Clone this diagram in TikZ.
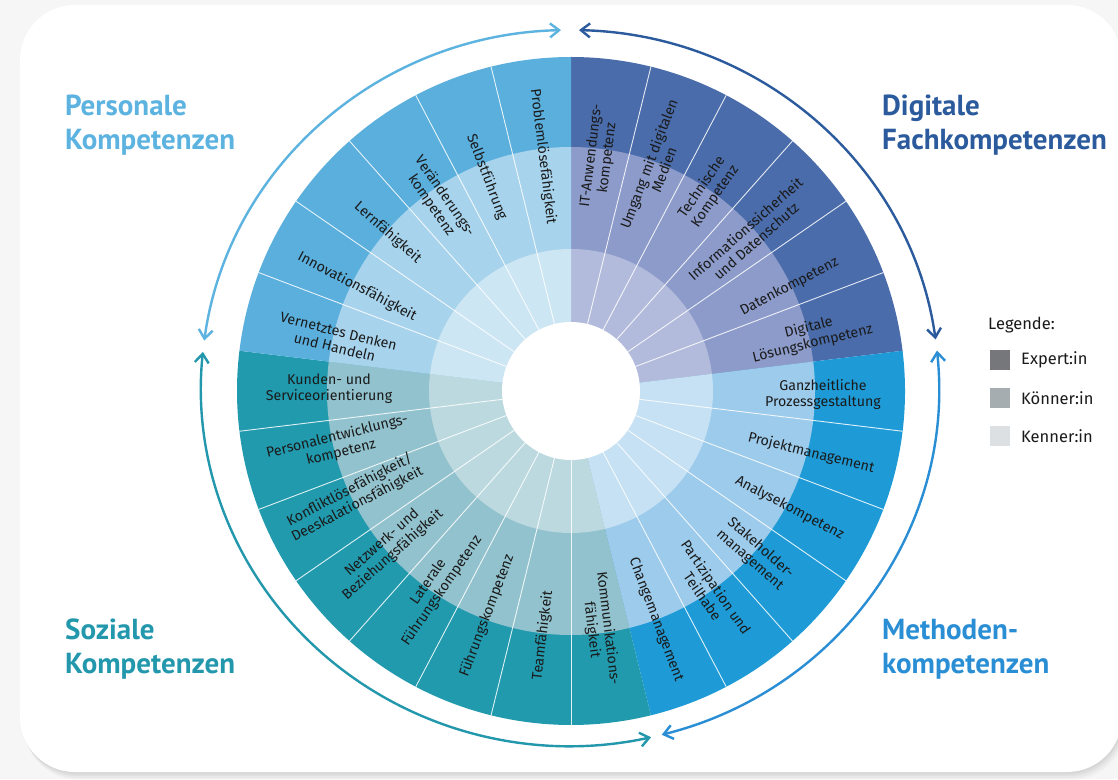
\documentclass[tikz,border=0pt]{standalone}
\usepackage{fontspec}
\setmainfont{Fira Sans}
\newfontfamily\titlefont{PT Sans}
\usetikzlibrary{arrows.meta}
\definecolor{persE}{HTML}{5AAFDD}
\definecolor{persK}{HTML}{A7D3EC}
\definecolor{persN}{HTML}{CDE6F4}
\definecolor{digE}{HTML}{4A6CAA}
\definecolor{digK}{HTML}{8C9BCA}
\definecolor{digN}{HTML}{B3BBDC}
\definecolor{metE}{HTML}{1E9BD7}
\definecolor{metK}{HTML}{9DCBEB}
\definecolor{metN}{HTML}{C5E1F3}
\definecolor{sozE}{HTML}{219AAE}
\definecolor{sozK}{HTML}{92C2CD}
\definecolor{sozN}{HTML}{BCD9DF}
\definecolor{persT}{HTML}{5DB3E0}
\definecolor{digT}{HTML}{2B5B9D}
\definecolor{sozT}{HTML}{2398AD}
\definecolor{metT}{HTML}{2A8ED5}
\definecolor{legE}{HTML}{75777A}
\definecolor{legK}{HTML}{A5ADB1}
\definecolor{legN}{HTML}{DCE0E2}
\definecolor{labcol}{HTML}{1A1A1A}
\definecolor{bgcol}{HTML}{F6F6F6}
\definecolor{shadowcol}{HTML}{9A9A9A}
\newcommand\wsector[4]{\fill[#1] (0,0) -- (#2:#4) arc[start angle=#2, end angle=#3, radius=#4] -- cycle;}
\begin{document}
\begin{tikzpicture}[x=1pt,y=1pt,
  lbl/.style={font=\fontsize{14.2}{16.2}\selectfont, align=center, inner sep=0pt, text=labcol},
  cattitle/.style={font=\titlefont\bfseries\fontsize{29}{34}\selectfont, align=left, inner sep=0pt, anchor=north west},
  sep/.style={white, line width=0.9pt, opacity=0.85},
  catarrow/.style={line width=2.4pt, {Straight Barb[length=9pt,width=14pt]}-{Straight Barb[length=9pt,width=14pt]}},
  legbox/.style={minimum width=20pt, minimum height=20pt, inner sep=0pt},
  legtext/.style={font=\fontsize{16.5}{18}\selectfont, anchor=west, inner sep=0pt, text=labcol}
]
\useasboundingbox (-571,-388) rectangle (547,391);
% background and card
\fill[bgcol] (-571,-388) rectangle (547,391);
\foreach \o/\op in {8/0.06,6/0.08,4/0.10,2/0.12}{
  \fill[shadowcol, opacity=\op, rounded corners=55] (-551+0.5*\o,386-\o) rectangle (551+0.5*\o,-381-\o);
}
\fill[white, rounded corners=55] (-551,386) rectangle (551,-381);
% wheel: expert ring
\wsector{digE}{6.923}{90}{334}
\wsector{metE}{-76.154}{6.923}{334}
\wsector{sozE}{-186.923}{-76.154}{334}
\wsector{persE}{90}{173.077}{334}
% koenner ring
\wsector{digK}{6.923}{90}{244}
\wsector{metK}{-76.154}{6.923}{244}
\wsector{sozK}{-186.923}{-76.154}{244}
\wsector{persK}{90}{173.077}{244}
% kenner ring
\wsector{digN}{6.923}{90}{142}
\wsector{metN}{-76.154}{6.923}{142}
\wsector{sozN}{-186.923}{-76.154}{142}
\wsector{persN}{90}{173.077}{142}
% separators
\foreach \j in {1,2,3,4,5,7,8,9,10,11,13,14,15,16,17,18,19,21,22,23,24,25}{
  \draw[sep] ({90-13.846154*\j}:69) -- ({90-13.846154*\j}:334);
}
\fill[white] (0,0) circle[radius=69];
% labels
\node[lbl, rotate=83.077] (l0) at (83.077:236) {IT-Anwendungs-\\kompetenz};
\node[lbl, rotate=69.231] (l1) at (69.231:240) {Umgang mit digitalen\\Medien};
\node[lbl, rotate=55.385] (l2) at (55.385:242) {Technische\\Kompetenz};
\node[lbl, rotate=41.538] (l3) at (41.0:238) {Informationssicherheit\\und Datenschutz};
\node[lbl, rotate=27.692] (l4) at (25.5:242) {Datenkompetenz};
\node[lbl, rotate=13.846] (l5) at (13.0:246) {Digitale\\Lösungskompetenz};
\node[lbl, rotate=0] (l6) at (-0.8:252) {Ganzheitliche\\Prozessgestaltung};
\node[lbl, rotate=-13.846] (l7) at (-14.5:248) {Projektmanagement};
\node[lbl, rotate=-27.692] (l8) at (-28.2:248) {Analysekompetenz};
\node[lbl, rotate=-41.538] (l9) at (-41.538:246) {Stakeholder-\\management};
\node[lbl, rotate=-55.385] (l10) at (-55.385:244) {Partizipation und\\Teilhabe};
\node[lbl, rotate=-69.231] (l11) at (-69.6:244) {Changemanagement};
\node[lbl, rotate=-83.077] (l12) at (-83.077:240) {Kommunikations-\\fähigkeit};
\node[lbl, rotate=83.077] (l13) at (-96.6:246) {Teamfähigkeit};
\node[lbl, rotate=69.231] (l14) at (-110.5:240) {Führungskompetenz};
\node[lbl, rotate=55.385] (l15) at (-124.8:238) {Laterale\\Führungskompetenz};
\node[lbl, rotate=41.538] (l16) at (-139.3:242) {Netzwerk- und\\Beziehungsfähigkeit};
\node[lbl, rotate=27.692] (l17) at (-154.0:242) {Konfliktlösefähigkeit/\\Deeskalationsfähigkeit};
\node[lbl, rotate=13.846] (l18) at (-167.0:238) {Personalentwicklungs-\\kompetenz};
\node[lbl, rotate=0] (l19) at (-180.5:242) {Kunden- und\\Serviceorientierung};
\node[lbl, rotate=-13.846] (l20) at (167.5:240) {Vernetztes Denken\\und Handeln};
\node[lbl, rotate=-27.692] (l21) at (154.0:238) {Innovationsfähigkeit};
\node[lbl, rotate=-41.538] (l22) at (139.2:242) {Lernfähigkeit};
\node[lbl, rotate=-55.385] (l23) at (125.0:232) {Veränderungs-\\kompetenz};
\node[lbl, rotate=-69.231] (l24) at (111.5:230) {Selbstführung};
\node[lbl, rotate=-83.077] (l25) at (96.8:236) {Problemlösefähigkeit};
% category arrows
\begin{scope}[shift={(-1,3)}]
  \coordinate (aP) at (91.4:369 and 358);
  \coordinate (aD) at (88.6:369 and 358);
  \coordinate (aM) at (6.0:369 and 358);
  \coordinate (aS) at (-77.3:369 and 358);
  \draw[catarrow, persT] (aP) arc[start angle=91.4, end angle=172.4, x radius=369, y radius=358];
  \draw[catarrow, digT] (aD) arc[start angle=88.6, end angle=7.8, x radius=369, y radius=358];
  \draw[catarrow, metT] (aM) arc[start angle=6.0, end angle=-75.6, x radius=369, y radius=358];
  \draw[catarrow, sozT] (aS) arc[start angle=-77.3, end angle=-185.8, x radius=369, y radius=358];
\end{scope}
% titles
\node[cattitle, text=persT] (tP) at (-506,296) {Personale\\Kompetenzen};
\node[cattitle, text=digT] (tD) at (311,296) {Digitale\\Fachkompetenzen};
\node[cattitle, text=sozT] (tS) at (-506,-228) {Soziale\\Kompetenzen};
\node[cattitle, text=metT] (tM) at (311,-228) {Methoden-\\kompetenzen};
% legend
\node[legtext] (lg) at (417,66) {Legende:};
\node[legbox, fill=legE] (bE) at (429,31) {};
\node[legbox, fill=legK] (bK) at (429,-7) {};
\node[legbox, fill=legN] (bN) at (429,-45) {};
\node[legtext] (tE) at (450,31) {Expert:in};
\node[legtext] (tK) at (450,-7) {Könner:in};
\node[legtext] (tN) at (450,-45) {Kenner:in};
\end{tikzpicture}
\end{document}
